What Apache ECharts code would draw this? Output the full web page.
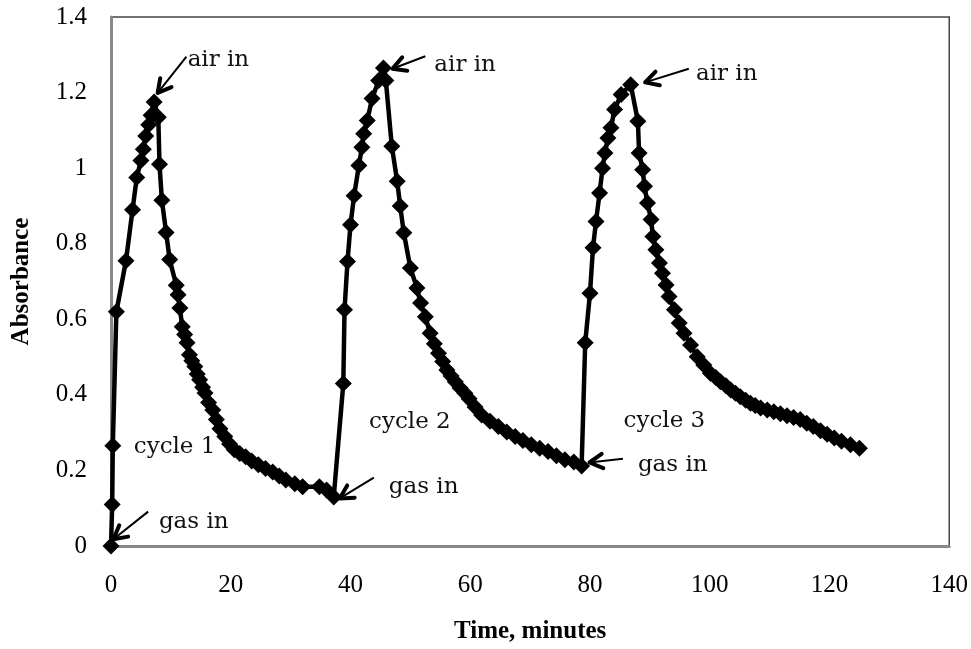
<!DOCTYPE html>
<html>
<head>
<meta charset="utf-8">
<script src="https://cdn.jsdelivr.net/npm/echarts@6/dist/echarts.min.js"></script>
<style>
html,body{margin:0;padding:0;background:#fff;}
#chart{width:971px;height:649px;}
</style>
</head>
<body>
<div id="chart"></div>
<script>
// ---- data ----
const timeMin = [
  0, 0.2, 0.3, 0.9, 2.5, 3.6, 4.3, 5.0, 5.4, 5.8, 6.3, 6.7, 7.2,
  7.9, 8.1, 8.5, 9.2, 9.8, 10.9, 11.2, 11.5, 11.9, 12.3, 12.7, 13.1, 13.5, 14.0, 14.4, 14.8, 15.3, 15.7, 16.3, 17.0, 17.6, 18.2, 19.0, 19.8, 20.6, 21.5, 22.5, 23.5, 24.6, 25.8, 27.0, 28.1, 29.2, 30.7, 32.0, 34.8, 36.0, 37.2,
  38.8, 39.0, 39.5, 40.0, 40.6, 41.4, 41.9, 42.2, 42.8, 43.6, 44.7, 45.5,
  45.9, 46.9, 47.8, 48.3, 48.9, 50.0, 51.1, 51.7, 52.5, 53.3, 54.0, 54.7, 55.4, 56.1, 56.8, 57.5, 58.3, 59.1, 59.8, 60.8, 61.9, 63.3, 64.7, 66.1, 67.5, 68.8, 70.2, 71.6, 73.0, 74.4, 75.8, 77.3, 78.6,
  79.2, 80.0, 80.5, 81.0, 81.6, 82.1, 82.5, 83.0, 83.5, 84.1, 85.2, 86.8,
  88.0, 88.2, 88.8, 89.1, 89.6, 90.2, 90.5, 91.0, 91.6, 92.1, 92.7, 93.2, 94.1, 94.9, 95.7, 96.8, 97.9, 99.0, 100.1, 101.0, 101.8, 102.7, 103.5, 104.3, 105.1, 106.0, 106.8, 107.6, 108.5, 109.6, 110.7, 111.8, 112.9, 114.0, 115.1, 116.2, 117.3, 118.5, 119.6, 120.8, 122.0, 123.5, 125.0
];
const absorbance = [
  0, 0.11, 0.265, 0.62, 0.755, 0.89, 0.975, 1.02, 1.05, 1.085, 1.115, 1.14, 1.175,
  1.135, 1.01, 0.915, 0.83, 0.758, 0.69, 0.665, 0.63, 0.58, 0.56, 0.538, 0.506, 0.49, 0.475, 0.455, 0.44, 0.42, 0.405, 0.38, 0.36, 0.335, 0.31, 0.29, 0.27, 0.255, 0.245, 0.236, 0.225, 0.215, 0.205, 0.196, 0.185, 0.175, 0.165, 0.157, 0.157, 0.148, 0.13,
  0.43, 0.625, 0.753, 0.85, 0.927, 1.007, 1.055, 1.091, 1.126, 1.184, 1.232, 1.265,
  1.232, 1.058, 0.965, 0.9, 0.829, 0.736, 0.683, 0.643, 0.607, 0.563, 0.535, 0.51, 0.488, 0.466, 0.45, 0.435, 0.418, 0.404, 0.39, 0.368, 0.347, 0.33, 0.316, 0.302, 0.29, 0.279, 0.268, 0.259, 0.25, 0.239, 0.228, 0.222, 0.212,
  0.538, 0.669, 0.789, 0.859, 0.934, 1.0, 1.04, 1.08, 1.107, 1.155, 1.195, 1.221,
  1.124, 1.04, 0.996, 0.952, 0.908, 0.864, 0.819, 0.784, 0.749, 0.722, 0.691, 0.66, 0.625, 0.59, 0.563, 0.532, 0.501, 0.479, 0.457, 0.446, 0.435, 0.424, 0.413, 0.404, 0.395, 0.386, 0.378, 0.372, 0.365, 0.36, 0.355, 0.35, 0.345, 0.34, 0.335, 0.325, 0.316, 0.305, 0.296, 0.286, 0.277, 0.268, 0.259
];

// annotation texts, anchored in data coordinates (left edge, vertical middle)
const annoText = ['air in', 'air in', 'air in', 'gas in', 'gas in', 'gas in', 'cycle 1', 'cycle 2', 'cycle 3'];
const annoX    = [12.8, 54.0, 97.7, 8.0, 46.4, 88.0, 3.8, 43.1, 85.6];
const annoY    = [1.287, 1.273, 1.248, 0.064, 0.157, 0.215, 0.262, 0.329, 0.331];

// arrows: tail (x1,y1) -> head (x2,y2), data coordinates
const arrowX1 = [12.6, 52.5, 96.5, 6.2, 43.9, 85.5];
const arrowY1 = [1.295, 1.296, 1.263, 0.091, 0.181, 0.231];
const arrowX2 = [7.8, 47.0, 89.2, 0.4, 38.2, 79.9];
const arrowY2 = [1.199, 1.263, 1.227, 0.018, 0.126, 0.221];

const xTicks = { min: 0, max: 140, interval: 20 };
const yTicks = { min: 0, max: 1.4, interval: 0.2 };

// ---- build ----
const lineData = timeMin.map((t, i) => [t, absorbance[i]]);
const textData = annoText.map((s, i) => [annoX[i], annoY[i], i]);
const arrowData = arrowX1.map((x, i) => [x, arrowY1[i], arrowX2[i], arrowY2[i]]);

const chart = echarts.init(document.getElementById('chart'), null, { renderer: 'canvas' });
const serif = 'Liberation Serif, Times New Roman, serif';
const annoFont = 'DejaVu Serif, serif';

chart.setOption({
  animation: false,
  backgroundColor: '#fff',
  grid: { left: 111, right: 18, top: 17, bottom: 103, show: true, borderColor: '#444', borderWidth: 1.5, containLabel: false },
  xAxis: {
    type: 'value', min: xTicks.min, max: xTicks.max, interval: xTicks.interval,
    name: 'Time, minutes', nameLocation: 'middle', nameGap: 73,
    nameTextStyle: { fontFamily: serif, fontWeight: 'bold', fontSize: 25, color: '#000' },
    axisLine: { show: true, lineStyle: { color: '#888', width: 3 } },
    axisTick: { show: false },
    splitLine: { show: false },
    axisLabel: { fontFamily: serif, fontSize: 25, color: '#000', margin: 27,
      formatter: v => String(v) }
  },
  yAxis: {
    type: 'value', min: yTicks.min, max: yTicks.max, interval: yTicks.interval,
    name: 'Absorbance', nameLocation: 'middle', nameGap: 77, nameRotate: 90,
    nameTextStyle: { fontFamily: serif, fontWeight: 'bold', fontSize: 25, color: '#000' },
    axisLine: { show: true, lineStyle: { color: '#888', width: 3 } },
    axisTick: { show: false },
    splitLine: { show: false },
    axisLabel: { fontFamily: serif, fontSize: 25, color: '#000', margin: 24,
      formatter: v => String(Math.round(v * 10) / 10) }
  },
  series: [
    {
      type: 'line', data: lineData, showAllSymbol: true,
      symbol: 'diamond', symbolSize: [17, 17],
      lineStyle: { color: '#000', width: 4.5 },
      itemStyle: { color: '#000' },
      z: 3
    },
    {
      type: 'custom', data: arrowData, clip: false, z: 4,
      encode: { x: [0, 2], y: [1, 3] },
      renderItem: function (params, api) {
        const p1 = api.coord([api.value(0), api.value(1)]);
        const p2 = api.coord([api.value(2), api.value(3)]);
        const ang = Math.atan2(p1[1] - p2[1], p1[0] - p2[0]);
        const L = 15, a = 0.5;
        const h1 = [p2[0] + L * Math.cos(ang + a), p2[1] + L * Math.sin(ang + a)];
        const h2 = [p2[0] + L * Math.cos(ang - a), p2[1] + L * Math.sin(ang - a)];
        return {
          type: 'group', children: [
            { type: 'line', shape: { x1: p1[0], y1: p1[1], x2: p2[0], y2: p2[1] }, style: { stroke: '#000', lineWidth: 2 } },
            { type: 'polyline', shape: { points: [h1, p2, h2] }, style: { stroke: '#000', lineWidth: 4, fill: null, lineCap: 'round', lineJoin: 'round' } }
          ]
        };
      }
    },
    {
      type: 'custom', data: textData, clip: false, z: 5,
      encode: { x: 0, y: 1 },
      renderItem: function (params, api) {
        const p = api.coord([api.value(0), api.value(1)]);
        return {
          type: 'text', x: p[0], y: p[1],
          style: { text: annoText[params.dataIndex], font: '23px ' + annoFont, fill: '#111', align: 'left', verticalAlign: 'middle' }
        };
      }
    }
  ]
});
</script>
</body>
</html>
